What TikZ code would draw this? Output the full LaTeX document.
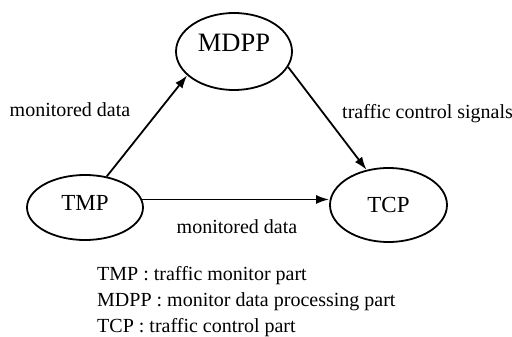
\documentclass[tikz,border=0pt]{standalone}
\usepackage{fontspec}
\setmainfont{Liberation Serif}
\usetikzlibrary{shapes.geometric,arrows.meta}
\begin{document}
\begin{tikzpicture}[x=1pt,y=-1pt,
  part/.style={draw,ellipse,line width=1.8pt,inner sep=0pt,font=\fontsize{23}{26}\selectfont},
  lbl/.style={inner sep=0pt,font=\fontsize{20}{24}\selectfont},
  flow/.style={line width=1.8pt,-{Latex[length=13pt,width=9pt]}}]
\useasboundingbox (0,0) rectangle (512,337);
\node[part,minimum width=116pt,minimum height=77pt,font=\fontsize{26.5}{30}\selectfont] (mdpp) at (234,51.5) {\smash{\raisebox{-0.5pt}{MDPP}}};
\node[part,minimum width=116pt,minimum height=65pt] (tmp) at (85,207.5) {\smash{\raisebox{-2.5pt}{TMP}}};
\node[part,minimum width=117pt,minimum height=74pt] (tcp) at (388.5,205) {\smash{\raisebox{-7pt}{TCP}}};
\draw[flow] (tmp.55) -- (mdpp.207);
\draw[flow] (mdpp.344) -- (tcp.122);
\draw[flow] (tmp.8) -- (tmp.8 -| tcp.west);
\node[lbl,anchor=base] (l1) at (70,117) {monitored data};
\node[lbl,anchor=base west] (l2) at (342,118) {traffic control signals};
\node[lbl,anchor=base] (l3) at (237,233) {monitored data};
\node[lbl,anchor=base west] (g1) at (97,280) {TMP : traffic monitor part};
\node[lbl,anchor=base west] (g2) at (97,306) {MDPP : monitor data processing part};
\node[lbl,anchor=base west] (g3) at (97,332) {TCP : traffic control part};
\end{tikzpicture}
\end{document}
